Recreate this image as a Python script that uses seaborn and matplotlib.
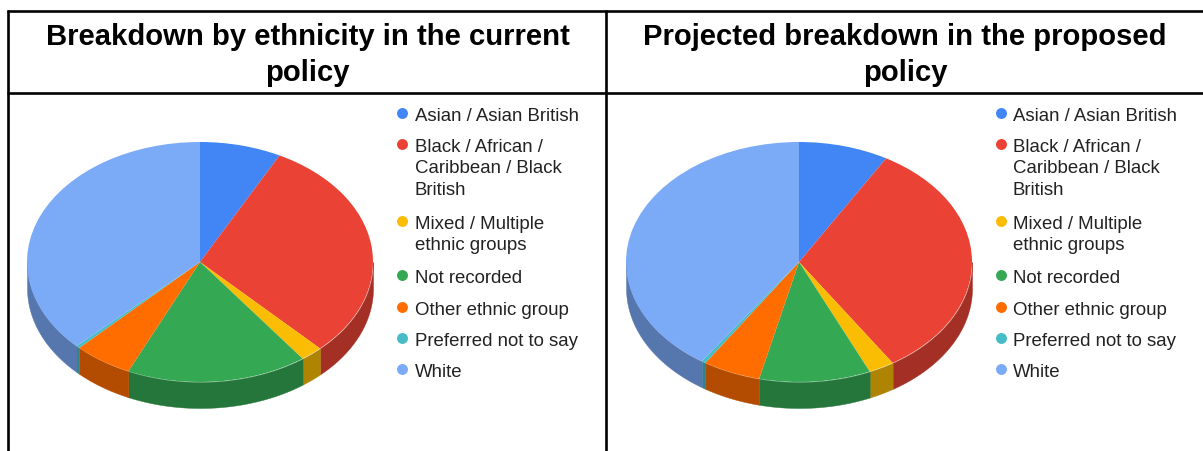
import numpy as np
import matplotlib
matplotlib.use("Agg")
import matplotlib.pyplot as plt
import seaborn as sns

categories = ["Asian / Asian British", "Black / African /\nCaribbean / Black\nBritish",
              "Mixed / Multiple\nethnic groups", "Not recorded", "Other ethnic group",
              "Preferred not to say", "White"]
current_share = [7.6, 30.2, 2.1, 16.9, 5.5, 0.35, 37.35]
proposed_share = [8.4, 32.5, 2.4, 10.4, 5.4, 0.4, 40.5]
titles = ["Breakdown by ethnicity in the current\npolicy",
          "Projected breakdown in the proposed\npolicy"]
colours = ["#4285F4", "#EA4335", "#FBBC04", "#34A853", "#FF6D01", "#46BDC6", "#7BAAF7"]

W, H = 1203, 452
sns.set_theme(style="white")
plt.rcParams["font.family"] = ["Liberation Sans", "DejaVu Sans"]
palette = sns.color_palette(colours)

fig = plt.figure(figsize=(W / 100, H / 100), dpi=100, facecolor="white")

# Full-figure layer in pixel units for the table rules, titles and legends
page = fig.add_axes([0, 0, 1, 1])
page.set_xlim(0, W)
page.set_ylim(H, 0)
page.axis("off")

rule = dict(color="black", lw=1.9, solid_capstyle="butt")
page.plot([7, W], [11.6, 11.6], **rule)
page.plot([7, W], [94, 94], **rule)
page.plot([8.2, 8.2], [11, H], **rule)
page.plot([605.7, 605.7], [11, H], **rule)

RY = 120.0
RX = 173.0
DEPTH = 26.0


def draw_pie(values, cx, cy):
    """Tilted pie: flattened wedges on top of a darker cylinder wall."""
    left = cx - RX
    top = cy - RY
    height = 2 * RY + DEPTH
    ax = fig.add_axes([left / W, 1 - (top + height) / H, 2 * RX / W, height / H])
    ax.set_zorder(2)

    fractions = np.asarray(values, dtype=float) / np.sum(values)
    edges = np.concatenate([[0.0], np.cumsum(fractions)]) * 2 * np.pi
    wall_depth = DEPTH / RY

    for start, end, colour in zip(edges[:-1], edges[1:], palette):
        lo, hi = max(start, np.pi / 2), min(end, 3 * np.pi / 2)
        if hi <= lo:
            continue
        theta = np.linspace(lo, hi, 80)
        dark = tuple(c * 0.7 for c in colour)
        ax.fill_between(np.sin(theta), np.cos(theta), np.cos(theta) - wall_depth,
                        color=dark, lw=0.3, zorder=1)

    ax.pie(values, colors=palette, startangle=90, counterclock=False,
           radius=1, wedgeprops=dict(linewidth=0, zorder=2))
    ax.set_aspect("auto")
    ax.set_xlim(-1, 1)
    ax.set_ylim(-1 - wall_depth, 1)
    ax.axis("off")


def draw_legend(x_dot, x_text):
    rows = [114.3, 145.3, 222.3, 276.3, 308.3, 339.3, 370.3]
    for y, label, colour in zip(rows, categories, palette):
        page.scatter([x_dot], [y], s=62, color=[colour], linewidths=0)
        page.text(x_text, y - 6.7, label, va="top", ha="left", fontsize=13.4,
                  color="#222222", linespacing=1.35)


for share, title, cx, title_x, x_dot, x_text in zip(
        [current_share, proposed_share], titles, [200, 799], [307.5, 905],
        [402, 1001], [415, 1013]):
    draw_pie(share, cx, 263)
    draw_legend(x_dot, x_text)
    page.text(title_x, 55, title, ha="center", va="center", fontsize=21.05,
              fontweight="bold", color="black", linespacing=1.39)

fig.savefig("out.png", dpi=100, facecolor="white")
